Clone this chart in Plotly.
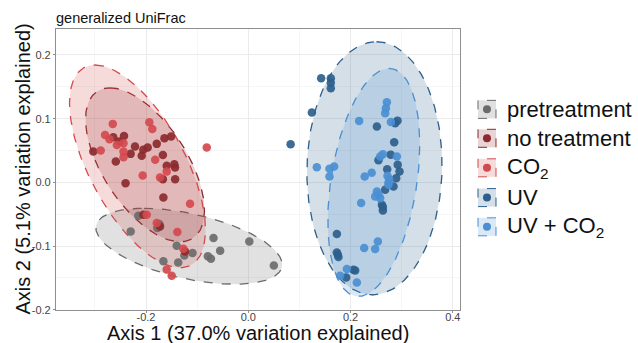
import numpy as np
import plotly.graph_objects as go

# ---------------- data ----------------
groups = ["pretreatment", "no treatment", "CO2", "UV", "UV + CO2"]
legend_labels = ["pretreatment", "no treatment", "CO<sub>2</sub>", "UV", "UV + CO<sub>2</sub>"]
colors = ["#6b6b6b", "#8c2a2e", "#d4494d", "#2c5f8c", "#4a8fd3"]

pre_x = [-0.215, -0.174, -0.178, -0.230, -0.068, 0.002, -0.055, -0.140, -0.109, -0.125,
         -0.079, -0.073, -0.166, -0.137, 0.050]
pre_y = [-0.0525, -0.0656, -0.0718, -0.0772, -0.0875, -0.0929, -0.1075, -0.0996, -0.111, -0.115,
         -0.116, -0.120, -0.124, -0.126, -0.1305]

not_x = [-0.264, -0.243, -0.252, -0.303, -0.230, -0.2215, -0.2084, -0.2053, -0.1967, -0.179,
         -0.164, -0.151, -0.167, -0.259, -0.1595, -0.1446, -0.1432, -0.167, -0.143, -0.240,
         -0.166, -0.205, -0.1726, -0.1237]
not_y = [0.0709, 0.0729, 0.064, 0.0483, 0.0447, 0.0562, 0.0416, 0.051, 0.0546, 0.0604,
         0.0693, 0.0718, 0.0431, 0.0326, 0.0259, 0.0285, 0.0232, 0.005, 0.005, -0.0013,
         -0.0238, -0.051, -0.0693, -0.1085]

co2_x = [-0.265, -0.1935, -0.1877, -0.280, -0.257, -0.244, -0.2886, -0.244, -0.244, -0.182,
         -0.1595, -0.1726, -0.2065, -0.0812, -0.1139, -0.1986, -0.179, -0.1387, -0.127, -0.1595,
         -0.1497, -0.2714]
co2_y = [0.0918, 0.0944, 0.0839, 0.0745, 0.0588, 0.0615, 0.0499, 0.0483, 0.0395, 0.0353,
         0.0169, 0.0075, 0.0107, 0.0546, -0.0337, -0.051, -0.064, -0.0781, -0.1043, -0.137,
         -0.1467, 0.0675]

uv_x = [0.1425, 0.1614, 0.1614, 0.1614, 0.1243, 0.0828, 0.2515, 0.2918, 0.2873, 0.2853,
        0.2546, 0.2785, 0.2922, 0.2716, 0.2957, 0.2892, 0.284, 0.2677, 0.2613, 0.2632,
        0.2632, 0.1732, 0.1732, 0.1751, 0.1763, 0.2057, 0.209, 0.1914]
uv_y = [0.1635, 0.1635, 0.1565, 0.1478, 0.1095, 0.0599, 0.0875, 0.0969, 0.0929, 0.0631,
        0.0348, 0.0435, 0.0275, 0.0204, 0.0169, 0.0066, -0.0066, -0.0118, -0.0353, -0.0389,
        -0.0442, -0.0813, -0.1101, -0.1137, -0.1173, -0.1373, -0.1384, -0.1493]

uvco2_x = [0.271, 0.2691, 0.2677, 0.2168, 0.2789, 0.2579, 0.2632, 0.2906, 0.134, 0.1587,
           0.1679, 0.1587, 0.2276, 0.2413, 0.2755, 0.2742, 0.2742, 0.2515, 0.2546, 0.2579,
           0.2481, 0.2207, 0.2534, 0.2266, 0.2481, 0.1928, 0.1796, 0.2123, 0.2722]
uvco2_y = [0.1258, 0.1164, 0.1085, 0.0965, 0.0949, 0.0405, 0.0442, 0.0405, 0.0238, 0.0212,
           0.0248, 0.0091, 0.0091, 0.0149, 0.005, -0.0003, -0.0039, -0.0144, -0.0196, -0.0248,
           -0.0223, -0.0326, -0.0929, -0.1032, -0.1048, -0.1362, -0.1467, -0.1572, 0.0102]

# confidence ellipses (data units): centre, conjugate semi-diameter to topmost point, horizontal half-chord
ell_cx = [-0.1159, -0.2020, -0.2166, 0.2468, 0.2454]
ell_cy = [-0.1004, 0.0275, 0.0251, 0.0221, -0.0002]
ell_ux = [-0.0879, -0.0685, -0.0832, 0.0039, 0.0301]
ell_uy = [0.0596, 0.1208, 0.1592, 0.1987, 0.1790]
ell_w = [0.1595, 0.0939, 0.1037, 0.1321, 0.0847]

xs = [pre_x, not_x, co2_x, uv_x, uvco2_x]
ys = [pre_y, not_y, co2_y, uv_y, uvco2_y]

x_title = "Axis 1 (37.0% variation explained)"
y_title = "Axis 2 (5.1% variation explained)"


def rgba(hexc, a):
    h = hexc.lstrip("#")
    r, g, b = int(h[0:2], 16), int(h[2:4], 16), int(h[4:6], 16)
    return f"rgba({r},{g},{b},{a})"


fig = go.Figure()
t = np.linspace(0, 2 * np.pi, 200)
order = [0, 3, 4, 1, 2]
for i in order:
    ex = ell_cx[i] + ell_ux[i] * np.cos(t) + ell_w[i] * np.sin(t)
    ey = ell_cy[i] + ell_uy[i] * np.cos(t)
    fig.add_trace(go.Scatter(x=ex, y=ey, mode="lines", fill="toself",
                             fillcolor=rgba(colors[i], 0.2),
                             line=dict(color=colors[i], width=1.3, dash="dash"),
                             hoverinfo="skip", showlegend=False))
for i in order:
    fig.add_trace(go.Scatter(x=xs[i], y=ys[i], mode="markers", name=groups[i],
                             marker=dict(color=colors[i], size=8.5, opacity=0.92),
                             showlegend=False))

# custom legend (dashed key boxes)
leg_y = [0.714, 0.611, 0.506, 0.400, 0.296]
for i in range(5):
    fig.add_shape(type="rect", xref="paper", yref="paper", xsizemode="pixel", ysizemode="pixel",
                  xanchor=1.0668, yanchor=leg_y[i], x0=-9, x1=9, y0=-9, y1=9,
                  line=dict(color=colors[i], width=1, dash="dash"),
                  fillcolor=rgba(colors[i], 0.2))
    fig.add_shape(type="circle", xref="paper", yref="paper", xsizemode="pixel", ysizemode="pixel",
                  xanchor=1.0668, yanchor=leg_y[i], x0=-4, x1=4, y0=-4, y1=4,
                  line=dict(width=0), fillcolor=colors[i])
    fig.add_annotation(text=legend_labels[i], xref="paper", yref="paper", x=1.112, y=leg_y[i],
                       xanchor="left", yanchor="middle", showarrow=False,
                       font=dict(size=22, color="#111111"))

# axis titles
fig.add_annotation(text=y_title, xref="paper", yref="paper", x=-0.084, y=0.5,
                   xanchor="center", yanchor="middle", textangle=-90, showarrow=False,
                   font=dict(size=20, color="#111111"))
fig.add_annotation(text=x_title, xref="paper", yref="paper", x=0.5, y=-0.081,
                   xanchor="center", yanchor="middle", showarrow=False,
                   font=dict(size=20, color="#111111"))

font_fam = "Liberation Sans, Arial, sans-serif"
fig.update_layout(
    width=638, height=343,
    margin=dict(l=56, r=178, t=29, b=33, autoexpand=False),
    paper_bgcolor="white", plot_bgcolor="white",
    font=dict(family=font_fam, color="#111111"),
    title=dict(text="generalized UniFrac", x=56 / 638, xanchor="left", xref="container",
               y=1 - 18 / 343, yanchor="middle", font=dict(size=14.5, color="#111111")),
    xaxis=dict(range=[-0.376, 0.414], tickvals=[-0.2, 0.0, 0.2, 0.4],
               ticktext=["-0.2", "0.0", "0.2", "0.4"], automargin=False,
               showgrid=True, gridcolor="#ebebeb", gridwidth=1,
               minor=dict(showgrid=True, gridcolor="#f6f6f6", gridwidth=0.6, dtick=0.1, tick0=-0.3),
               zeroline=False, showline=True, linecolor="#8f8f8f", linewidth=1.2, mirror=True,
               ticks="outside", ticklen=2, tickcolor="#8f8f8f", ticklabelstandoff=-5,
               tickfont=dict(size=11, color="#444444")),
    yaxis=dict(range=[-0.2005, 0.2408], tickvals=[-0.2, -0.1, 0.0, 0.1, 0.2],
               ticktext=["-0.2", "-0.1", "0.0", "0.1", "0.2"], automargin=False,
               showgrid=True, gridcolor="#ebebeb", gridwidth=1,
               minor=dict(showgrid=True, gridcolor="#f6f6f6", gridwidth=0.6, dtick=0.05, tick0=-0.15),
               zeroline=False, showline=True, linecolor="#8f8f8f", linewidth=1.2, mirror=True,
               ticks="outside", ticklen=2, tickcolor="#8f8f8f",
               tickfont=dict(size=11, color="#444444")),
)

fig.write_html("out.html")
